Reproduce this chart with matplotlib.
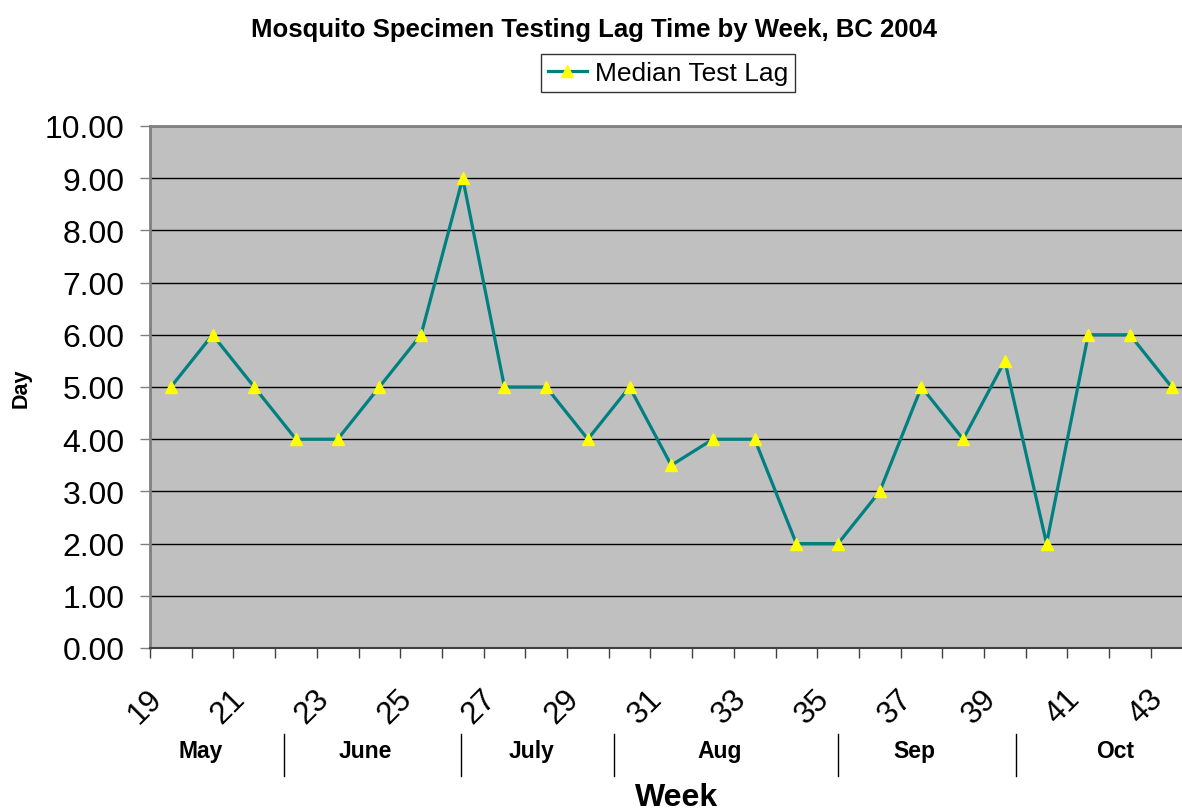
import matplotlib
matplotlib.use("Agg")
import matplotlib.pyplot as plt
from matplotlib import transforms
import numpy as np

plt.rcParams['font.family'] = ['Liberation Sans', 'DejaVu Sans']

# data
weeks = list(range(19, 44))
median_lag = [5, 6, 5, 4, 4, 5, 6, 9, 5, 5, 4, 5, 3.5, 4, 4, 2, 2, 3, 5, 4, 5.5, 2, 6, 6, 5]
week_labels = [str(w) for w in weeks[::2]]
months = ['May', 'June', 'July', 'Aug', 'Sep', 'Oct']

# layout of the month strip (in week units)
month_centers = [19.72, 23.66, 27.66, 32.17, 36.82, 41.64]
month_breaks = [21.71, 25.96, 29.63, 35.0, 39.27]

W, H = 1182, 812
fig = plt.figure(figsize=(W / 100, H / 100), dpi=100)
ax = fig.add_axes([150 / W, 1 - 649 / H, 1042.5 / W, 522 / H])
ax.set_facecolor('#C0C0C0')

line, = ax.plot(weeks, median_lag, color='#008080', lw=2.3, marker='^',
                ms=9, mfc='#FFFF00', mec='#FFFF00', label='Median Test Lag',
                zorder=3)

ax.set_xlim(weeks[0] - 0.5, weeks[-1] + 0.5)
ax.set_ylim(0, 10)

ax.set_yticks(np.arange(0, 11, 1))
ax.set_yticklabels(['%.2f' % v for v in np.arange(0, 11, 1)], fontsize=23)
ax.yaxis.grid(True, color='black', lw=1)
ax.set_axisbelow(True)
ax.tick_params(axis='y', length=7.5, width=1, color='#808080', pad=11)

ax.set_xticks(weeks[::2])
ax.set_xticklabels(week_labels, fontsize=22.5, rotation=45, ha='right',
                   va='top', rotation_mode='anchor')
ax.set_xticks(np.arange(weeks[0] - 0.5, weeks[-1] + 0.6, 1), minor=True)
ax.tick_params(axis='x', which='major', length=0, pad=25)
ax.tick_params(axis='x', which='minor', length=7.5, width=1, color='#404040')
shift = transforms.ScaledTranslation(-24 / 100, 0, fig.dpi_scale_trans)
for lab in ax.get_xticklabels():
    lab.set_transform(lab.get_transform() + shift)

for side in ['top', 'left']:
    ax.spines[side].set_color('#808080')
    ax.spines[side].set_linewidth(2)
ax.spines['bottom'].set_color('#404040')
ax.spines['bottom'].set_linewidth(1.5)
ax.spines['right'].set_visible(False)

# month strip below the week labels
trans = transforms.blended_transform_factory(ax.transData, fig.transFigure)
for m, xc in zip(months, month_centers):
    ax.text(xc, 1 - 752 / H, m, transform=trans, ha='center', va='center',
            fontsize=16.5, fontweight='bold', clip_on=False)
for xb in month_breaks:
    ax.plot([xb, xb], [1 - 735 / H, 1 - 777 / H], transform=trans,
            color='black', lw=1, clip_on=False)

fig.text(594 / W, 1 - 30 / H, 'Mosquito Specimen Testing Lag Time by Week, BC 2004',
         ha='center', va='center', fontsize=18.5, fontweight='bold')
fig.text(677 / W, 1 - 798 / H, 'Week', ha='center', va='center',
         fontsize=23, fontweight='bold')
fig.text(21 / W, 1 - 388 / H, 'Day', ha='center', va='center', rotation=90,
         fontsize=15.5, fontweight='bold')

leg = fig.legend(handles=[line], loc='center', bbox_to_anchor=(668 / W, 1 - 74 / H),
                 fontsize=19, frameon=True, fancybox=False, handlelength=1.5,
                 handletextpad=0.3, borderpad=0.25, borderaxespad=0)
leg.get_frame().set_edgecolor('black')
leg.get_frame().set_linewidth(1)

fig.savefig('out.png', dpi=100)
